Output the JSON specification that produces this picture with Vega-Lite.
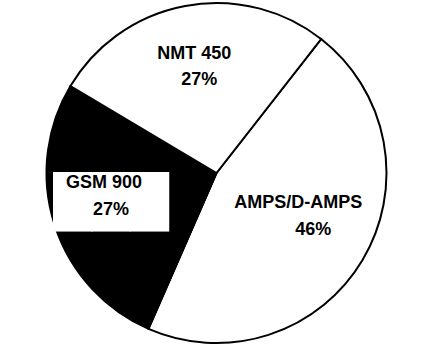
{
  "$schema": "https://vega.github.io/schema/vega-lite/v6.json",
  "width": 433,
  "height": 346,
  "autosize": {"type": "fit", "contains": "padding"},
  "padding": 0,
  "background": "white",
  "config": {"view": {"stroke": null}, "text": {"font": "Liberation Sans", "fontWeight": "bold", "fontSize": 18, "fill": "black", "baseline": "middle", "align": "center"}},
  "data": {
    "values": [
      {"name": "AMPS/D-AMPS", "pct": 46, "pctText": "46%"},
      {"name": "GSM 900", "pct": 27, "pctText": "27%"},
      {"name": "NMT 450", "pct": 27, "pctText": "27%"}
    ]
  },
  "encoding": {
    "theta": {"field": "pct", "type": "quantitative", "stack": true, "scale": {"domain": [0, 100], "range": [0.663, 6.946]}},
    "order": {"field": "name", "type": "ordinal", "sort": "ascending"}
  },
  "layer": [
    {
      "mark": {"type": "arc", "outerRadius": 170, "stroke": "black", "strokeWidth": 2},
      "encoding": {
        "fill": {"field": "name", "type": "nominal", "legend": null,
          "scale": {"domain": ["AMPS/D-AMPS", "GSM 900", "NMT 450"], "range": ["white", "black", "white"]}}
      }
    },
    {
      "mark": {"type": "text", "radius": 105, "thetaOffset": 0.089, "dy": 8, "dx": -3, "font": "DejaVu Sans", "fontWeight": "normal", "fontSize": 50, "fill": "white"},
      "encoding": {
        "text": {"condition": {"test": "datum.name === 'GSM 900'", "value": "███"}, "value": ""}
      }
    },
    {
      "mark": {"type": "text", "radius": 113, "thetaOffset": 0.222},
      "encoding": {
        "text": {"condition": {"test": "datum.name === 'GSM 900'", "field": "name"}, "value": ""}
      }
    },
    {
      "mark": {"type": "text", "radius": 113, "thetaOffset": 0.222, "dy": 27, "dx": 7},
      "encoding": {
        "text": {"condition": {"test": "datum.name === 'GSM 900'", "field": "pctText"}, "value": ""}
      }
    },
    {
      "mark": {"type": "text", "radius": 121},
      "encoding": {
        "text": {"condition": {"test": "datum.name === 'NMT 450'", "field": "name"}, "value": ""}
      }
    },
    {
      "mark": {"type": "text", "radius": 121, "dy": 26, "dx": 5},
      "encoding": {
        "text": {"condition": {"test": "datum.name === 'NMT 450'", "field": "pctText"}, "value": ""}
      }
    },
    {
      "mark": {"type": "text", "radius": 87, "thetaOffset": -0.185},
      "encoding": {
        "text": {"condition": {"test": "datum.name === 'AMPS/D-AMPS'", "field": "name"}, "value": ""}
      }
    },
    {
      "mark": {"type": "text", "radius": 87, "thetaOffset": -0.185, "dy": 27, "dx": 15},
      "encoding": {
        "text": {"condition": {"test": "datum.name === 'AMPS/D-AMPS'", "field": "pctText"}, "value": ""}
      }
    }
  ]
}
